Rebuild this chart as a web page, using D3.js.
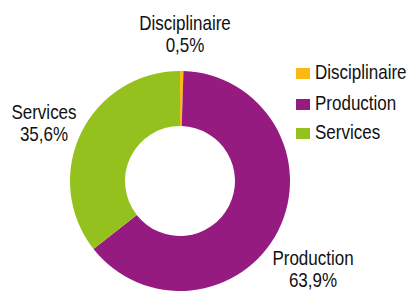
<!DOCTYPE html>
<html>
<head>
<meta charset="utf-8">
<script src="https://cdn.jsdelivr.net/npm/d3@7"></script>
<style>
  body { margin: 0; background: #fff; }
  text { font-family: "Liberation Sans", Arial, sans-serif; fill: #111; }
</style>
</head>
<body>
<svg id="chart" width="411" height="291"></svg>
<script>
// categories and shares (percent), clockwise from 12 o'clock
var categories = ["Disciplinaire", "Production", "Services"];
var shares = [0.5, 63.9, 35.6];
var shareLabels = ["0,5%", "63,9%", "35,6%"];
var colours = ["#FDB913", "#951B81", "#95C11F"];

var svg = d3.select("#chart");
var cx = 180, cy = 181, outerR = 110, innerR = 55;
// the text in the source is narrow, so squeeze it a little
var squeeze = 0.85;

var color = d3.scaleOrdinal().domain(categories).range(colours);

var pie = d3.pie().sort(null).value(function(d) { return d.value; });
var arc = d3.arc().innerRadius(innerR).outerRadius(outerR);

var data = categories.map(function(c, i) {
    return { name: c, value: shares[i], label: shareLabels[i] };
});
var arcs = pie(data);

var g = svg.append("g").attr("transform", "translate(" + cx + "," + cy + ")");

g.selectAll("path")
    .data(arcs)
    .enter().append("path")
    .attr("d", arc)
    .attr("fill", function(d) { return color(d.data.name); });

// label anchors relative to the donut centre (hand placed like the source)
var labelOffsets = [[5, -151], [133, 84], [-136, -62]];

var labels = g.selectAll(".lbl")
    .data(arcs)
    .enter().append("g")
    .attr("class", "lbl")
    .attr("transform", function(d, i) {
        var p = labelOffsets[i];
        return "translate(" + p[0] + "," + p[1] + ") scale(" + squeeze + ",1)";
    });

labels.append("text")
    .attr("text-anchor", "middle")
    .attr("font-size", 20)
    .text(function(d) { return d.data.name; });

labels.append("text")
    .attr("text-anchor", "middle")
    .attr("font-size", 20)
    .attr("y", 22)
    .text(function(d) { return d.data.label; });

// legend
var legendRows = [79, 110, 139];

var item = svg.append("g").attr("class", "legend")
    .selectAll("g")
    .data(categories)
    .enter().append("g")
    .attr("transform", function(d, i) { return "translate(296," + legendRows[i] + ")"; });

item.append("rect")
    .attr("y", -11)
    .attr("width", 14)
    .attr("height", 11)
    .attr("fill", function(d) { return color(d); });

item.append("text")
    .attr("transform", "translate(19,0) scale(" + squeeze + ",1)")
    .attr("font-size", 20)
    .text(function(d) { return d; });
</script>
</body>
</html>
